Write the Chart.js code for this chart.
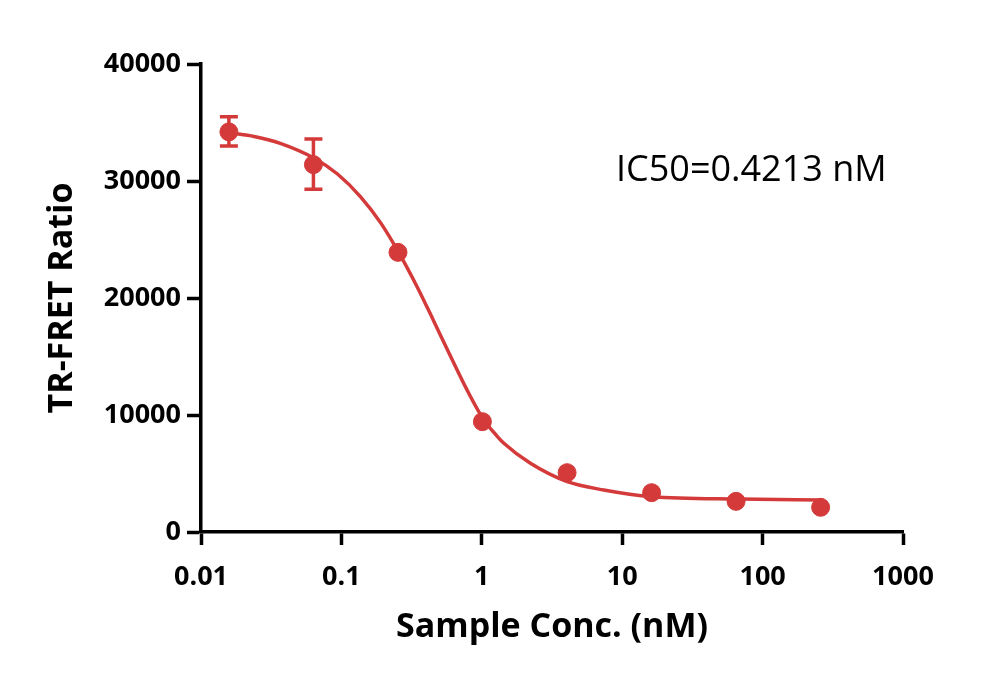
<!DOCTYPE html>
<html>
<head>
<meta charset="utf-8">
<script src="https://cdn.jsdelivr.net/npm/chart.js@4/dist/chart.umd.min.js"></script>
<style>
  html, body { margin: 0; padding: 0; background: #fff; }
  #wrap { width: 1000px; height: 681px; position: relative; }
</style>
</head>
<body>
<div id="wrap"><canvas id="myChart" width="1000" height="681"></canvas></div>
<script>
// measured points
var conc = [0.0158, 0.0632, 0.253, 1.01, 4.05, 16.2, 64.7, 259];
var ratio = [34200, 31400, 23900, 9430, 5070, 3360, 2620, 2110];
var errLow = [33000, 29300, null, null, null, null, null, null];
var errHigh = [35500, 33600, null, null, null, null, null, null];

// fitted curve
var curveX = [0.0163, 0.0239, 0.0371, 0.064, 0.0938, 0.137, 0.191, 0.257, 0.348, 0.456, 0.60, 0.788, 1.025, 1.288, 1.436, 2.22, 4.06, 7.39, 16.3, 69, 270];
var curveY = [34100, 33800, 33200, 31950, 30600, 28650, 26400, 23850, 20900, 18000, 15000, 12100, 9650, 8180, 7580, 5870, 4300, 3590, 3020, 2820, 2740];

var xTicks = [0.01, 0.1, 1, 10, 100, 1000];
var xTickLabels = ['0.01', '0.1', '1', '10', '100', '1000'];
var yTicks = [0, 10000, 20000, 30000, 40000];

var red = 'rgb(212,58,58)';
var mainFont = '"Open Sans", sans-serif';

var points = conc.map(function(c, i) { return { x: c, y: ratio[i] }; });
var curve = curveX.map(function(c, i) { return { x: c, y: curveY[i] }; });

var errorBars = {
    id: 'errorBars',
    beforeDatasetsDraw: function(chart) {
        var ctx = chart.ctx;
        var xs = chart.scales.x, ys = chart.scales.y;
        ctx.save();
        ctx.strokeStyle = red;
        ctx.lineWidth = 3.5;
        for (var i = 0; i < conc.length; i++) {
            if (errLow[i] == null) continue;
            var px = xs.getPixelForValue(conc[i]);
            var top = ys.getPixelForValue(errHigh[i]);
            var bot = ys.getPixelForValue(errLow[i]);
            ctx.beginPath();
            ctx.moveTo(px, top); ctx.lineTo(px, bot);
            ctx.moveTo(px - 9, top); ctx.lineTo(px + 9, top);
            ctx.moveTo(px - 9, bot); ctx.lineTo(px + 9, bot);
            ctx.stroke();
        }
        ctx.restore();
    }
};

var ic50Label = {
    id: 'ic50Label',
    afterDraw: function(chart) {
        var ctx = chart.ctx;
        ctx.save();
        ctx.fillStyle = '#000';
        ctx.font = '36px ' + mainFont;
        ctx.textBaseline = 'middle';
        ctx.fillText('IC50=0.4213 nM', 616, 171);
        ctx.restore();
    }
};

new Chart(document.getElementById('myChart'), {
    type: 'scatter',
    data: {
        datasets: [
            {
                data: curve,
                showLine: true,
                borderColor: red,
                borderWidth: 3.5,
                pointRadius: 0,
                cubicInterpolationMode: 'monotone',
                fill: false
            },
            {
                data: points,
                backgroundColor: red,
                borderColor: red,
                pointRadius: 9,
                pointHoverRadius: 9,
                showLine: false
            }
        ]
    },
    options: {
        responsive: false,
        animation: false,
        events: [],
        layout: { padding: { top: 64, right: 97, left: 0, bottom: 0 } },
        plugins: { legend: { display: false }, tooltip: { enabled: false } },
        scales: {
            x: {
                type: 'logarithmic',
                min: 0.01,
                max: 1000,
                afterBuildTicks: function(s) { s.ticks = xTicks.map(function(v) { return { value: v }; }); },
                afterFit: function(s) { s.height = 681 - 532; },
                grid: { drawOnChartArea: false, drawTicks: true, tickLength: 13, tickWidth: 3.5, tickColor: '#000' },
                border: { display: true, color: '#000', width: 3.5 },
                ticks: {
                    color: '#000',
                    padding: 16,
                    maxRotation: 0,
                    autoSkip: false,
                    font: { family: mainFont, size: 27, weight: 'bold' },
                    callback: function(v) { var k = xTicks.indexOf(v); return k < 0 ? '' : xTickLabels[k]; }
                },
                title: {
                    display: true,
                    text: 'Sample Conc. (nM)',
                    color: '#000',
                    font: { family: mainFont, size: 34, weight: 'bold' },
                    padding: { top: 0, bottom: 33 }
                }
            },
            y: {
                min: 0,
                max: 40000,
                afterBuildTicks: function(s) { s.ticks = yTicks.map(function(v) { return { value: v }; }); },
                afterFit: function(s) { s.width = 201; },
                grid: { drawOnChartArea: false, drawTicks: true, tickLength: 14, tickWidth: 3.5, tickColor: '#000' },
                border: { display: true, color: '#000', width: 3.5 },
                ticks: {
                    color: '#000',
                    padding: 6,
                    font: { family: mainFont, size: 27, weight: 'bold' },
                    callback: function(v) { return String(v); }
                },
                title: {
                    display: true,
                    text: 'TR-FRET Ratio',
                    color: '#000',
                    font: { family: mainFont, size: 34, weight: 'bold' },
                    padding: { top: 42, bottom: 0 }
                }
            }
        }
    },
    plugins: [errorBars, ic50Label]
});
</script>
</body>
</html>
